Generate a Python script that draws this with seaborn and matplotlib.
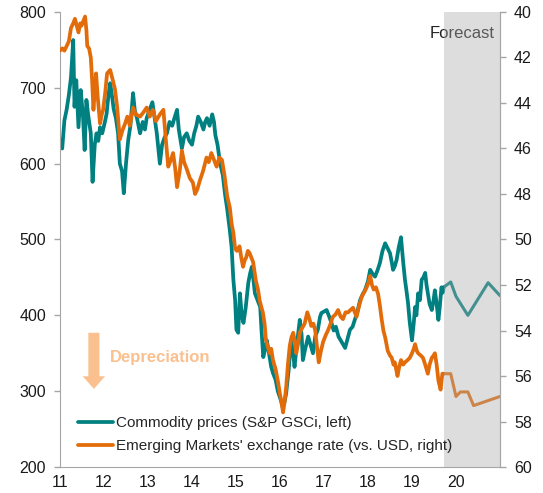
import seaborn as sns
import matplotlib.pyplot as plt

# Commodity prices, S&P GSCI (left axis), history up to Q3 2019
comm_t = [11.00, 11.05, 11.10, 11.15, 11.20, 11.25, 11.30, 11.33, 11.37, 11.42, 11.47, 11.52, 11.56, 11.60,
          11.65, 11.70, 11.74, 11.79, 11.83, 11.87, 11.91, 11.96, 12.02, 12.06, 12.10, 12.14, 12.18, 12.22,
          12.27, 12.32, 12.36, 12.41, 12.45, 12.50, 12.55, 12.60, 12.66, 12.70, 12.75, 12.82, 12.88, 12.93,
          12.97, 13.03, 13.10, 13.15, 13.20, 13.27, 13.32, 13.38, 13.43, 13.49, 13.55, 13.60, 13.66, 13.70,
          13.77, 13.82, 13.88, 13.94, 14.00, 14.05, 14.10, 14.14, 14.20, 14.26, 14.30, 14.34, 14.40, 14.46,
          14.50, 14.53, 14.58, 14.64, 14.70, 14.75, 14.80, 14.86, 14.90, 14.94, 14.98, 15.01, 15.05, 15.09,
          15.13, 15.17, 15.22, 15.28, 15.32, 15.36, 15.40, 15.43, 15.49, 15.55, 15.58, 15.62, 15.66, 15.70,
          15.75, 15.80, 15.84, 15.90, 15.95, 16.02, 16.06, 16.10, 16.14, 16.20, 16.25, 16.29, 16.33, 16.38,
          16.42, 16.45, 16.49, 16.52, 16.57, 16.64, 16.70, 16.75, 16.80, 16.86, 16.91, 16.94, 17.00, 17.06,
          17.12, 17.17, 17.22, 17.27, 17.33, 17.40, 17.48, 17.54, 17.59, 17.65, 17.70, 17.76, 17.82, 17.88,
          17.93, 18.00, 18.05, 18.10, 18.16, 18.22, 18.27, 18.33, 18.39, 18.45, 18.50, 18.54, 18.57, 18.61,
          18.65, 18.70, 18.75, 18.80, 18.84, 18.88, 18.91, 18.95, 19.00, 19.04, 19.07, 19.10, 19.14, 19.18,
          19.22, 19.26, 19.30, 19.33, 19.36, 19.40, 19.45, 19.49, 19.52, 19.56, 19.60, 19.63, 19.67, 19.70,
          19.72]
comm_v = [631, 620, 657, 671, 690, 714, 763, 675, 710, 648, 697, 665, 618, 684,
          660, 640, 576, 625, 640, 630, 648, 640, 655, 666, 690, 706, 690, 672,
          660, 640, 600, 590, 561, 600, 631, 650, 693, 670, 660, 640, 655, 645,
          660, 670, 681, 660, 640, 600, 625, 635, 640, 655, 650, 660, 671, 645,
          620, 635, 640, 630, 625, 640, 650, 662, 655, 645, 655, 660, 650, 665,
          655, 638, 625, 600, 585, 560, 540, 512, 490, 447, 420, 381, 377, 429,
          400, 390, 410, 443, 455, 464, 445, 429, 420, 411, 380, 345, 355, 367,
          350, 332, 324, 315, 300, 288, 279, 285, 297, 330, 367, 355, 332, 360,
          380, 394, 375, 341, 355, 372, 360, 350, 372, 381, 398, 403, 405, 407,
          398, 390, 380, 385, 372, 365, 357, 370, 381, 385, 394, 405, 420, 428,
          433, 445, 460, 455, 451, 460, 469, 485, 495, 488, 482, 470, 460, 465,
          473, 490, 503, 470, 447, 430, 416, 390, 367, 390, 411, 400, 429, 420,
          447, 450, 456, 440, 429, 415, 407, 420, 433, 415, 394, 410, 437, 430,
          437]

# Emerging Markets' exchange rate vs. USD (right axis, inverted)
em_t = [11.00, 11.05, 11.10, 11.15, 11.20, 11.25, 11.30, 11.34, 11.38, 11.42, 11.46, 11.49, 11.53, 11.57,
        11.60, 11.62, 11.66, 11.70, 11.73, 11.76, 11.79, 11.82, 11.86, 11.91, 11.95, 11.98, 12.03, 12.07,
        12.14, 12.20, 12.25, 12.30, 12.36, 12.42, 12.48, 12.53, 12.59, 12.66, 12.72, 12.82, 12.90, 12.97,
        13.04, 13.11, 13.18, 13.27, 13.35, 13.40, 13.46, 13.52, 13.57, 13.62, 13.66, 13.72, 13.77, 13.82,
        13.88, 13.95, 14.02, 14.07, 14.12, 14.18, 14.25, 14.33, 14.38, 14.44, 14.50, 14.56, 14.62, 14.68,
        14.74, 14.80, 14.86, 14.90, 14.94, 14.98, 15.02, 15.08, 15.12, 15.16, 15.20, 15.23, 15.27, 15.31,
        15.35, 15.39, 15.45, 15.50, 15.54, 15.58, 15.61, 15.65, 15.68, 15.72, 15.77, 15.80, 15.84, 15.90,
        15.95, 16.00, 16.03, 16.07, 16.10, 16.14, 16.18, 16.22, 16.26, 16.30, 16.34, 16.37, 16.41, 16.45,
        16.50, 16.56, 16.62, 16.67, 16.71, 16.76, 16.80, 16.84, 16.88, 16.93, 16.98, 17.04, 17.09, 17.15,
        17.20, 17.26, 17.32, 17.38, 17.43, 17.49, 17.55, 17.60, 17.66, 17.70, 17.74, 17.80, 17.86, 17.92,
        17.97, 18.01, 18.05, 18.09, 18.13, 18.18, 18.23, 18.27, 18.31, 18.35, 18.39, 18.45, 18.50, 18.54,
        18.58, 18.61, 18.64, 18.67, 18.71, 18.75, 18.80, 18.84, 18.90, 18.95, 19.00, 19.04, 19.07, 19.11,
        19.14, 19.20, 19.25, 19.30, 19.36, 19.40, 19.45, 19.49, 19.52, 19.56, 19.60, 19.65, 19.69, 19.72]
em_v = [41.7, 41.6, 41.7, 41.5, 41.3, 40.7, 40.5, 40.3, 40.6, 40.9, 40.5, 40.6, 40.4, 40.2,
        40.8, 41.5, 41.6, 42.0, 43.0, 44.3, 43.5, 42.7, 43.8, 44.9, 44.5, 44.3, 43.5, 42.7,
        42.55, 43.0, 43.4, 44.2, 45.6, 45.2, 44.9, 44.6, 45.0, 44.2, 44.5, 44.6, 44.4, 44.2,
        44.6, 44.3, 44.8, 44.5, 44.3, 45.5, 46.8, 46.5, 46.2, 46.9, 47.7, 47.0, 46.1, 46.6,
        46.9, 47.3, 47.5, 48.0, 47.8, 47.4, 47.0, 46.4, 46.6, 46.2, 46.5, 46.8, 46.4, 46.5,
        47.2, 48.1, 48.6, 49.3, 49.7, 50.4, 50.5, 50.3, 50.8, 51.2, 50.9, 50.8, 50.5, 50.6,
        50.8, 51.0, 51.8, 52.2, 52.7, 53.0, 53.2, 53.7, 54.4, 54.7, 55.0, 54.8, 55.3, 55.7,
        56.2, 56.8, 57.1, 57.6, 57.2, 56.5, 55.5, 54.7, 54.3, 54.1, 54.5, 55.0, 54.6, 54.1,
        53.9, 53.7, 53.2, 53.5, 53.8, 53.7, 54.0, 54.7, 55.4, 54.9, 54.5, 54.2, 54.0, 53.7,
        53.4, 53.3, 53.1, 53.4, 53.5, 53.2, 53.2, 53.1, 53.0, 53.2, 53.4, 52.9, 52.5, 52.3,
        52.1, 51.9, 51.6, 52.0, 52.2, 52.1, 52.4, 52.9, 53.5, 54.0, 54.3, 54.9, 55.1, 55.2,
        55.5, 55.4, 55.7, 56.0, 55.6, 55.3, 55.5, 55.4, 55.3, 55.2, 55.0, 54.8, 54.6, 54.9,
        55.0, 55.1, 55.2, 55.5, 55.9, 55.5, 55.2, 55.1, 55.0, 55.5, 56.2, 56.6, 55.9, 55.9]

# Forecasts
comm_fc_t = [19.72, 19.88, 20.00, 20.27, 20.73, 21.00]
comm_fc_v = [437, 444, 425, 400, 443, 426]
em_fc_t = [19.72, 19.88, 20.00, 20.10, 20.27, 20.40, 21.00]
em_fc_v = [55.9, 55.9, 56.9, 56.7, 56.7, 57.3, 56.9]

teal = "#008080"
orange = "#E36C0A"
grey = "#A6A6A6"

sns.set_style("white")
plt.rcParams['font.family'] = ['Liberation Sans', 'DejaVu Sans']

fig, ax = plt.subplots(figsize=(5.43, 4.93), dpi=100)
fig.subplots_adjust(left=0.1105, right=0.9208, bottom=0.0527, top=0.9757)
ax2 = ax.twinx()

sns.lineplot(x=comm_t, y=comm_v, ax=ax, color=teal, lw=2.7, label="Commodity prices (S&P GSCi, left)", legend=False)
sns.lineplot(x=comm_fc_t, y=comm_fc_v, ax=ax, color=teal, lw=2.2, legend=False)
sns.lineplot(x=em_t, y=em_v, ax=ax2, color=orange, lw=2.7, label="Emerging Markets' exchange rate (vs. USD, right)", legend=False)
sns.lineplot(x=em_fc_t, y=em_fc_v, ax=ax2, color=orange, lw=2.2, legend=False)

ax.set_xlim(11, 21)
ax.set_ylim(200, 800)
ax.set_yticks(range(200, 801, 100))
ax.set_xticks(range(11, 21))
ax2.set_ylim(60, 40)
ax2.set_yticks(range(40, 61, 2))

# forecast shading drawn over the lines and label
ax2.text(19.41, 40.95, "Forecast", fontsize=12, color="#222222", ha="left", va="center", zorder=3)
ax2.axvspan(19.73, 21, color="#AAAAAA", alpha=0.4, lw=0, zorder=5)

# depreciation arrow
ax.annotate("", xy=(11.77, 303), xytext=(11.77, 377),
            arrowprops=dict(arrowstyle="simple,head_width=1.15,head_length=0.65,tail_width=0.57",
                            color="#FBC08F", lw=0, shrinkA=0, shrinkB=0, mutation_scale=14))
ax.text(12.14, 344, "Depreciation", fontsize=12, fontweight="bold", color="#FBC08F", ha="left", va="center")

for a in (ax, ax2):
    for s in a.spines.values():
        s.set_color(grey)
    a.spines["top"].set_visible(False)
    a.tick_params(colors=grey, labelcolor="#1A1A1A", labelsize=11.5, length=4, width=1, direction="out", pad=6)
ax.tick_params(axis="x", pad=1.5, labelsize=11.5)
ax2.spines["left"].set_visible(False)
ax2.spines["bottom"].set_visible(False)

h1, l1 = ax.get_legend_handles_labels()
h2, l2 = ax2.get_legend_handles_labels()
ax2.legend(h1 + h2, l1 + l2, loc="lower left", bbox_to_anchor=(0.04, 0.03), frameon=False, fontsize=11,
           handlelength=2.3, handletextpad=0.2, labelspacing=0.6, borderpad=0, borderaxespad=0)

fig.savefig("out.png", dpi=100)
